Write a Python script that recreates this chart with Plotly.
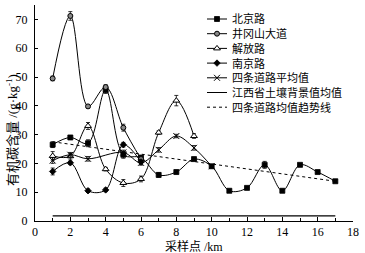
import plotly.graph_objects as go

# ---------------- data ----------------
x_beijing = list(range(1, 18))
beijing = [26.5, 29.0, 27.0, 45.5, 23.0, 22.0, 16.0, 17.0, 21.5, 19.0, 10.5, 11.5, 19.5, 10.5, 19.5, 17.0, 13.8]
beijing_err = [1.0, 0.6, 1.2, 1.2, 1.2, 0.8, 0.8, 0.6, 0.6, 0.6, 0.5, 0.5, 1.2, 0.5, 0.5, 0.5, 0.5]

x_jgs = [1, 2, 3, 4, 5, 6]
jinggangshan = [49.5, 71.2, 39.8, 46.5, 32.4, 21.5]
jgs_err = [0.8, 1.5, 0.6, 0.8, 1.2, 0.8]

x_jf = [1, 2, 3, 4, 5, 6, 7, 8, 9]
jiefang = [22.6, 22.5, 33.0, 18.0, 13.2, 14.6, 30.7, 41.8, 29.5]
jf_err = [1.5, 1.0, 1.2, 0.6, 1.2, 1.0, 0.6, 1.8, 0.8]

x_nj = [1, 2, 3, 4, 5, 6]
nanjing = [17.2, 20.2, 10.5, 10.8, 26.5, 20.5]
nj_err = [1.2, 0.6, 0.6, 0.6, 0.8, 0.6]

x_avg = [1, 2, 3, 5, 6, 7, 8, 9, 10]
avg = [21.0, 23.0, 21.6, 23.8, 20.2, 24.7, 29.5, 25.4, 19.0]
avg_err = [1.0, 0.8, 0.8, 0.8, 0.8, 0.8, 0.6, 0.8, 0.5]

x_bg = [1, 17]
background = [1.8, 1.8]

x_trend = [1, 17]
trend = [27.5, 13.8]

names = ["北京路", "井冈山大道", "解放路", "南京路", "四条道路平均值",
         "江西省土壤背景值均值", "四条道路均值趋势线"]

x_ticks = [0, 2, 4, 6, 8, 10, 12, 14, 16, 18]
y_ticks = [0, 10, 20, 30, 40, 50, 60, 70]

# ---------------- styling ----------------
W, H = 365, 253
L, R, T, B = 35, 12, 5, 32
PW, PH = W - L - R, H - T - B
SERIF = "Liberation Serif, Times New Roman, serif"
CJK = "Liberation Serif, Noto Sans CJK SC, serif"


def px(xp):
    return (xp - L) / PW


def py(yp):
    return (H - B - yp) / PH


styles = [
    dict(symbol="square", size=5, color="black", line=dict(color="black", width=0.8)),
    dict(symbol="circle", size=5, color="#888888", line=dict(color="black", width=1)),
    dict(symbol="triangle-up", size=6, color="white", line=dict(color="black", width=1)),
    dict(symbol="diamond", size=5, color="black", line=dict(color="black", width=0.8)),
    dict(symbol="x-thin-open", size=6, color="black", line=dict(color="black", width=1)),
]

fig = go.Figure()

series = [
    (x_beijing, beijing, beijing_err),
    (x_jgs, jinggangshan, jgs_err),
    (x_jf, jiefang, jf_err),
    (x_nj, nanjing, nj_err),
    (x_avg, avg, avg_err),
]
for (xs, ys, es), st, nm in zip(series, styles, names):
    fig.add_trace(go.Scatter(
        x=xs, y=ys, name=nm, mode="lines+markers",
        line=dict(color="black", width=1, shape="spline", smoothing=1),
        marker=st,
        error_y=dict(type="data", array=es, visible=True, color="black",
                     thickness=0.8, width=2),
        showlegend=False, cliponaxis=False,
    ))

fig.add_trace(go.Scatter(x=x_bg, y=background, mode="lines", name=names[5],
                         line=dict(color="black", width=1.2), showlegend=False))
fig.add_trace(go.Scatter(x=x_trend, y=trend, mode="lines", name=names[6],
                         line=dict(color="black", width=1, dash="dot"), showlegend=False))

# ---------------- manual legend (pixel overlay axis) ----------------
leg_x0, leg_x1, leg_tx = 207, 227, 230
leg_y0, leg_dy = 19, 14.7
for i, nm in enumerate(names):
    yy = leg_y0 + i * leg_dy
    dash = "dot" if i == 6 else "solid"
    fig.add_trace(go.Scatter(x=[leg_x0, leg_x1], y=[yy, yy], mode="lines",
                             line=dict(color="black", width=1, dash=dash),
                             xaxis="x2", yaxis="y2", showlegend=False, hoverinfo="skip"))
    if i < 5:
        fig.add_trace(go.Scatter(x=[(leg_x0 + leg_x1) / 2], y=[yy], mode="markers",
                                 marker=styles[i], xaxis="x2", yaxis="y2",
                                 showlegend=False, hoverinfo="skip"))
    fig.add_annotation(x=px(leg_tx), y=py(yy), xref="paper", yref="paper", text=nm,
                       showarrow=False, xanchor="left", yanchor="middle",
                       font=dict(family=CJK, size=11, color="black"))

# axis titles as annotations
fig.add_annotation(x=px(194), y=py(246), xref="paper", yref="paper", text="采样点 /km",
                   showarrow=False, xanchor="center", yanchor="middle",
                   font=dict(family=CJK, size=12, color="black"))
fig.add_annotation(x=px(12), y=py(130), xref="paper", yref="paper",
                   text="有机碳含量 /(g·kg<sup>-1</sup>)", textangle=-90,
                   showarrow=False, xanchor="center", yanchor="middle",
                   font=dict(family=CJK, size=13, color="black"))

fig.update_layout(
    width=W, height=H,
    margin=dict(l=L, r=R, t=T, b=B, autoexpand=False),
    paper_bgcolor="white", plot_bgcolor="white",
    showlegend=False,
    xaxis=dict(range=[0, 18], tickvals=x_ticks, ticks="inside", ticklen=4,
               tickcolor="black", showline=True, linecolor="black", linewidth=1,
               showgrid=False, zeroline=False, automargin=False,
               minor=dict(dtick=1, ticks="inside", ticklen=3, tickcolor="black"),
               tickfont=dict(family=SERIF, size=12, color="black")),
    yaxis=dict(range=[0, 75], tickvals=y_ticks, ticks="inside", ticklen=3,
               tickcolor="black", showline=True, linecolor="black", linewidth=1,
               showgrid=False, zeroline=False, automargin=False,
               ticklabelstandoff=4,
               tickfont=dict(family=SERIF, size=12, color="black")),
    xaxis2=dict(range=[L, W - R], overlaying="x", visible=False, fixedrange=True,
                automargin=False),
    yaxis2=dict(range=[H - B, T], overlaying="y", visible=False, fixedrange=True,
                automargin=False),
)

fig.write_html("out.html",
               config={"displayModeBar": False, "staticPlot": True},
               post_script="document.body.style.margin='0';"
                           "document.body.style.overflow='hidden';")
